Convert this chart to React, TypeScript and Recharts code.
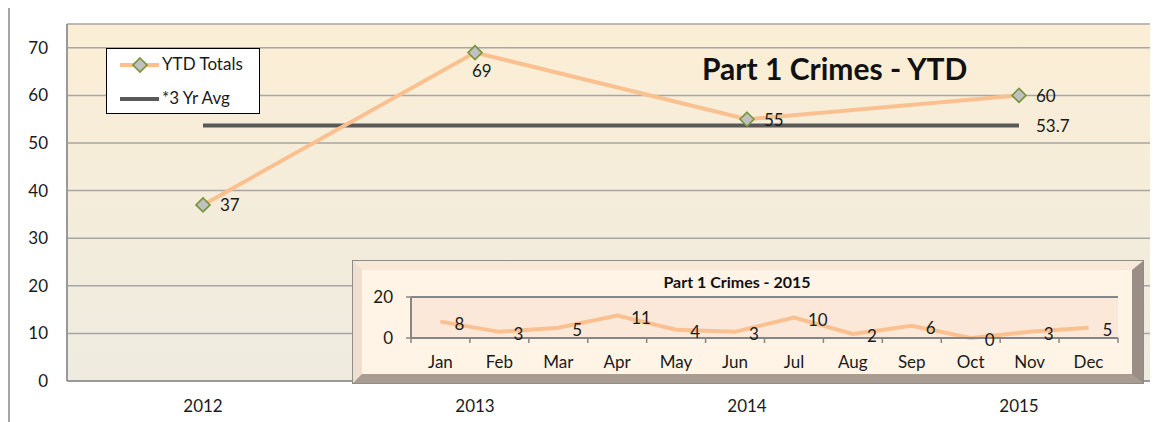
import React from 'react'
import { LineChart, Line, XAxis, YAxis, CartesianGrid, LabelList } from 'recharts'

const years = ['2012', '2013', '2014', '2015']
const ytdTotals = [37, 69, 55, 60]
const threeYrAvg = [53.7, 53.7, 53.7, 53.7]
const yTicks = [0, 10, 20, 30, 40, 50, 60, 70]

const months = ['Jan', 'Feb', 'Mar', 'Apr', 'May', 'Jun', 'Jul', 'Aug', 'Sep', 'Oct', 'Nov', 'Dec']
const monthly2015 = [8, 3, 5, 11, 4, 3, 10, 2, 6, 0, 3, 5]
const insetTicks = [0, 20]

const FONT = 'Lato, "Open Sans", sans-serif'
const PEACH = '#fac090'
const AVG = '#595959'
const TXT = '#1a1a1a'

const mainData = years.map((y, i) => ({ year: y, ytd: ytdTotals[i], avg: threeYrAvg[i] }))
const insetData = months.map((m, i) => ({ month: m, count: monthly2015[i] }))

function Diamond(props: any) {
  const { cx, cy } = props
  if (cx == null || cy == null) return null
  const r = 7
  return (
    <path
      d={`M${cx},${cy - r} L${cx + r},${cy} L${cx},${cy + r} L${cx - r},${cy} Z`}
      fill="#c0c0c0"
      stroke="#77933c"
      strokeWidth={1.6}
    />
  )
}

function YtdLabel(props: any) {
  const { x, y, value, index } = props
  // 2013 label sits under its point, the rest to the right
  const below = index === 1
  return (
    <text
      x={below ? x - 3 : x + 17}
      y={below ? y + 20 : y + 2}
      fontSize={17}
      fontFamily={FONT}
      fill={TXT}
      dominantBaseline="middle"
    >
      {value}
    </text>
  )
}

function AvgLabel(props: any) {
  const { x, y, value, index } = props
  if (index !== threeYrAvg.length - 1) return null
  return (
    <text x={x + 17} y={y + 2} fontSize={17} fontFamily={FONT} fill={TXT} dominantBaseline="middle">
      {value}
    </text>
  )
}

function MonthLabel(props: any) {
  const { x, y, value } = props
  return (
    <text x={x + 14} y={y + 4} fontSize={17} fontFamily={FONT} fill={TXT} dominantBaseline="middle">
      {value}
    </text>
  )
}

// month tick: label at band centre, small tick marks at band edges (Excel style)
function MonthTick(props: any) {
  const { x, y, payload, index, width } = props
  const bw = width / months.length
  const axisY = y - 18
  return (
    <g>
      <line x1={x - bw / 2} y1={axisY} x2={x - bw / 2} y2={axisY + 5} stroke="#868686" strokeWidth={1.5} />
      {index === months.length - 1 && (
        <line x1={x + bw / 2} y1={axisY} x2={x + bw / 2} y2={axisY + 5} stroke="#868686" strokeWidth={1.5} />
      )}
      <text x={x} y={y} dy="0.71em" textAnchor="middle" fontSize={17} fontFamily={FONT} fill={TXT}>
        {payload.value}
      </text>
    </g>
  )
}

function LegendBox() {
  return (
    <div
      style={{
        position: 'absolute',
        left: 98,
        top: 42,
        width: 154,
        height: 66,
        background: '#fff',
        border: '1px solid #000',
        boxSizing: 'border-box'
      }}
    >
      <svg width={152} height={64} style={{ position: 'absolute', left: 0, top: 0 }}>
        <line x1={13} y1={16} x2={52} y2={16} stroke={PEACH} strokeWidth={4} />
        <Diamond cx={33} cy={16} />
        <line x1={13} y1={50} x2={52} y2={50} stroke={AVG} strokeWidth={4} />
        <text x={55} y={17} fontSize={17} fontFamily={FONT} fill={TXT} dominantBaseline="middle">YTD Totals</text>
        <text x={55} y={51} fontSize={17} fontFamily={FONT} fill={TXT} dominantBaseline="middle">*3 Yr Avg</text>
      </svg>
    </div>
  )
}

export default function App() {
  return (
    <div style={{ position: 'relative', width: 1150, height: 416, marginTop: -2, fontFamily: FONT }}>
      <div
        style={{
          position: 'absolute',
          left: 0,
          top: 0,
          width: 1150,
          height: 420,
          borderTop: '2px solid #a6a6a6',
          borderLeft: '2px solid #a6a6a6',
          boxSizing: 'border-box'
        }}
      />
      <div style={{ position: 'absolute', left: 0, top: 0 }}>
        <LineChart width={1150} height={416} data={mainData} margin={{ top: 18, right: 3, bottom: 0, left: 0 }}>
          <defs>
            <linearGradient id="mainBg" x1="0" y1="0" x2="0" y2="1">
              <stop offset="0%" stopColor="#fbeed5" />
              <stop offset="100%" stopColor="#eeebe0" />
            </linearGradient>
          </defs>
          <CartesianGrid vertical={false} stroke="#a6a6a6" strokeWidth={1.5} fill="url(#mainBg)" />
          <XAxis
            dataKey="year"
            scale="band"
            height={41}
            axisLine={{ stroke: '#999', strokeWidth: 2 }}
            tickLine={false}
            tickSize={6}
            tickMargin={13}
            tick={{ fontSize: 17, fill: TXT, fontFamily: FONT }}
          />
          <YAxis
            width={59}
            domain={[0, 75]}
            ticks={yTicks}
            axisLine={{ stroke: '#999', strokeWidth: 2 }}
            tickLine={false}
            tickSize={6}
            tickMargin={13}
            tick={{ fontSize: 17, fill: TXT, fontFamily: FONT }}
          />
          <Line
            dataKey="avg"
            name="*3 Yr Avg"
            stroke={AVG}
            strokeWidth={4}
            dot={false}
            activeDot={false}
            isAnimationActive={false}
          >
            <LabelList dataKey="avg" content={<AvgLabel />} />
          </Line>
          <Line
            dataKey="ytd"
            name="YTD Totals"
            stroke={PEACH}
            strokeWidth={4}
            dot={<Diamond />}
            activeDot={false}
            isAnimationActive={false}
          >
            <LabelList dataKey="ytd" content={<YtdLabel />} />
          </Line>
        </LineChart>
      </div>
      <LegendBox />
      <div
        style={{
          position: 'absolute',
          left: 694,
          top: 44,
          fontSize: 30,
          lineHeight: '36px',
          fontWeight: 700,
          color: '#111',
          whiteSpace: 'nowrap'
        }}
      >
        Part 1 Crimes - YTD
      </div>

      {/* inset: monthly 2015 */}
      <div
        style={{
          position: 'absolute',
          left: 345,
          top: 255,
          width: 790,
          height: 122,
          boxSizing: 'border-box',
          background: '#fff4e6',
          borderStyle: 'solid',
          borderWidth: '9px 11px 9px 9px',
          borderColor: '#f7e8d8 #9a8f86 #a99c90 #efdfcf',
          outline: '1.5px solid #8c8c8c'
        }}
      />
      <div style={{ position: 'absolute', left: 345, top: 255 }}>
        <LineChart width={790} height={122} data={insetData} margin={{ top: 36, right: 25, bottom: 0, left: 0 }}>
          <CartesianGrid vertical={false} horizontal stroke="#868686" strokeWidth={2} fill="#fce8d8" />
          <XAxis
            dataKey="month"
            scale="band"
            height={45}
            axisLine={{ stroke: '#868686', strokeWidth: 2 }}
            tickLine={false}
            tickSize={6}
            tickMargin={12}
            tick={<MonthTick />}
          />
          <YAxis
            width={58}
            domain={[0, 20]}
            ticks={insetTicks}
            axisLine={{ stroke: '#868686', strokeWidth: 2 }}
            tickLine={{ stroke: '#868686', strokeWidth: 1.5 }}
            tickSize={5}
            tickMargin={13}
            tick={{ fontSize: 17, fill: TXT, fontFamily: FONT }}
          />
          <Line
            dataKey="count"
            stroke={PEACH}
            strokeWidth={4}
            dot={false}
            activeDot={false}
            isAnimationActive={false}
          >
            <LabelList dataKey="count" content={<MonthLabel />} />
          </Line>
        </LineChart>
      </div>
      <div
        style={{
          position: 'absolute',
          left: 345,
          top: 266,
          width: 768,
          textAlign: 'center',
          fontSize: 16,
          lineHeight: '20px',
          fontWeight: 700,
          color: '#111'
        }}
      >
        Part 1 Crimes - 2015
      </div>
    </div>
  )
}
